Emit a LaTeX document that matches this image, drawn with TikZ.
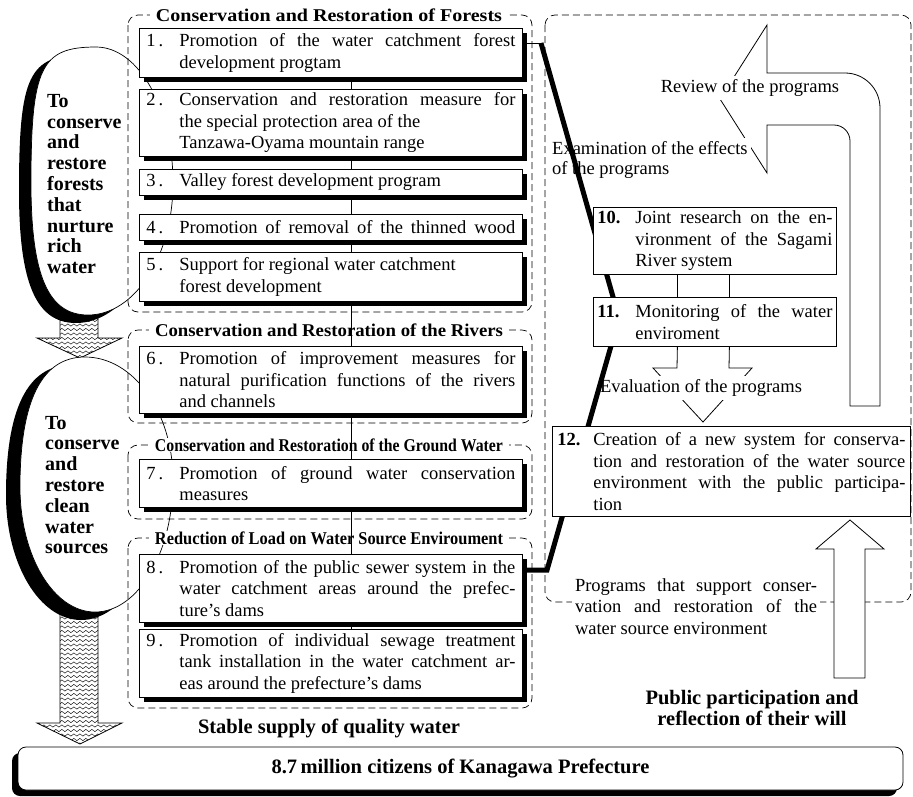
\documentclass[tikz,border=0pt]{standalone}
\usepackage{fontspec}
\setmainfont{Liberation Serif}
\usepackage{graphicx}
\usetikzlibrary{positioning,shadows,decorations.pathmorphing,calc}
\tolerance=9999
\hbadness=10000
\pgfdeclarelayer{back}
\pgfdeclarelayer{mid}
\pgfsetlayers{back,mid,main}

% number + justified text of a program box
\newcommand\prog[4]{\makebox[#1][l]{#3}\parbox[t]{#2}{#4}}
\newcommand\fulline{\parfillskip=0pt\relax}

\begin{document}
\begin{tikzpicture}[
  x=1pt, y=-1pt,
  txt/.style={font=\fontsize{18.5}{21.5}\selectfont},
  pbox/.style={txt, draw, fill=white, anchor=north west, inner xsep=7pt,
               inner ysep=0pt, line width=0.8pt,
               drop shadow={opacity=1, fill=black, shadow xshift=5pt, shadow yshift=-5pt}},
  rbox/.style={txt, draw, fill=white, anchor=north west, inner xsep=4pt,
               inner ysep=0pt, line width=0.8pt},
  grp/.style={draw, dash pattern=on 7pt off 4pt, rounded corners=10pt, line width=0.7pt},
  ttl/.style={fill=white, inner xsep=6pt, inner ysep=1pt,
              font=\bfseries\fontsize{18}{20}\selectfont},
  aim/.style={font=\bfseries\fontsize{20}{20.8}\selectfont, align=left,
              anchor=west, inner sep=0pt},
  big/.style={font=\bfseries\fontsize{20.5}{21}\selectfont, align=center},
  citybox/.style={draw, fill=white, rounded corners=8pt, line width=0.8pt,
                  minimum width=885pt, minimum height=43pt,
                  font=\bfseries\fontsize{20.5}{21}\selectfont,
                  drop shadow={opacity=1, fill=black, shadow xshift=-6pt, shadow yshift=-6pt}},
  hollow/.style={draw, fill=white, line width=0.8pt, line join=miter},
  wave/.style={decorate, decoration={snake, amplitude=1.1pt, segment length=6pt},
               line width=0.45pt},
  note/.style={txt, fill=white, inner sep=3pt},
  link/.style={line width=0.7pt},
  trunk/.style={line width=5pt, line join=miter},
  % outlines of the two aims
  forestaim/.style={insert path={(96,47) .. controls (40.75,47) and (31,67.4) .. (31,183)
     .. controls (31,275.4) and (48.1,315) .. (88,315)
     .. controls (134.9,315) and (173,255.9) .. (173,183)
     .. controls (173,107.9) and (138.5,47) .. (96,47) -- cycle}},
  wateraim/.style={insert path={(85,357) .. controls (41,357) and (20,402) .. (20,487)
     .. controls (20,556) and (53.6,612) .. (95,612)
     .. controls (138.1,612) and (173,552.9) .. (173,480)
     .. controls (173,412.1) and (133.6,357) .. (85,357) -- cycle}}
]
\useasboundingbox (0,0) rectangle (913,796);

% program boxes, left column
\node[pbox, minimum height=49pt] (b1) at (139,28)
  {\prog{33pt}{336pt}{1\hspace{3pt}.}{Promotion of the water catchment forest\linebreak development progtam}};
\node[pbox, minimum height=67pt] (b2) at (139,89)
  {\prog{33pt}{336pt}{2\hspace{3pt}.}{Conservation and restoration measure for\linebreak the special protection area of the\\Tanzawa-Oyama mountain range}};
\node[pbox, minimum height=26pt] (b3) at (139,169)
  {\prog{33pt}{336pt}{3\hspace{3pt}.}{Valley forest development program}};
\node[pbox, minimum height=26pt] (b4) at (139,214)
  {\prog{33pt}{336pt}{4\hspace{3pt}.}{\fulline Promotion of removal of the thinned wood}};
\node[pbox, minimum height=49pt] (b5) at (139,252)
  {\prog{33pt}{336pt}{5\hspace{3pt}.}{Support for regional water catchment\\forest development}};
\node[pbox, minimum height=67pt] (b6) at (139,346)
  {\prog{33pt}{336pt}{6\hspace{3pt}.}{Promotion of improvement measures for\linebreak natural purification functions of the rivers\linebreak and channels}};
\node[pbox, minimum height=48pt] (b7) at (139,459)
  {\prog{33pt}{336pt}{7\hspace{3pt}.}{Promotion of ground water conservation\linebreak measures}};
\node[pbox, minimum height=68pt] (b8) at (139,554)
  {\prog{33pt}{336pt}{8\hspace{3pt}.}{Promotion of the public sewer system in the\linebreak water catchment areas around the prefec-\linebreak ture's dams}};
\node[pbox, minimum height=68pt] (b9) at (139,629)
  {\prog{33pt}{336pt}{9\hspace{3pt}.}{Promotion of individual sewage treatment\linebreak tank installation in the water catchment ar-\linebreak eas around the prefecture's dams}};

% right column
\node[rbox, minimum height=67pt] (b10) at (593,207)
  {\prog{38pt}{197pt}{\textbf{10.}}{Joint research on the en-\linebreak vironment of the Sagami\linebreak River system}};
\node[rbox, minimum height=49pt] (b11) at (593,297)
  {\prog{38pt}{197pt}{\textbf{11.}}{Monitoring of the water\linebreak enviroment}};
\node[rbox, inner xsep=5pt, minimum height=90pt] (b12) at (552,426)
  {\prog{36pt}{312pt}{\textbf{12.}}{Creation of a new system for conserva-\linebreak tion and restoration of the water source\linebreak environment with the public participa-\linebreak tion}};

\node[big] (supply) at (329,728) {Stable supply of quality water};
\node[big] (public) at (752,707.5) {Public participation and\\reflection of their will};
\node[citybox] (city) at (460.5,768.5) {8.7\,million citizens of Kanagawa Prefecture};

\begin{pgfonlayer}{back}
% hatched arrows
\begin{scope}
  \clip (60,316) -- (98,316) -- (98,338) -- (122,338) -- (80,358) -- (37,338) -- (60,338) -- cycle;
  \foreach \y in {316,320.5,...,362} \draw[wave] (30,\y) -- (130,\y);
\end{scope}
\draw[line width=0.8pt] (60,316) -- (98,316) -- (98,338) -- (122,338) -- (80,358) -- (37,338) -- (60,338) -- cycle;
\begin{scope}
  \clip (60,600) -- (98,600) -- (98,723) -- (122,723) -- (80,744) -- (37,723) -- (60,723) -- cycle;
  \foreach \y in {600,604.5,...,748} \draw[wave] (30,\y) -- (130,\y);
\end{scope}
\draw[line width=0.8pt] (60,600) -- (98,600) -- (98,723) -- (122,723) -- (80,744) -- (37,723) -- (60,723) -- cycle;

% aims
\fill[shift={(-12,8)}, forestaim];
\draw[fill=white, line width=0.7pt, forestaim];
\fill[shift={(-14,8)}, wateraim];
\draw[fill=white, line width=0.7pt, wateraim];
\node[aim] (aim1) at (47,184) {To\\conserve\\and\\restore\\forests\\that\\nurture\\rich\\water};
\node[aim] (aim2) at (45,485) {To\\conserve\\and\\restore\\clean\\water\\sources};

% groups
\draw[grp] (128,15) rectangle (532,312);
\draw[grp] (128,330) rectangle (532,423);
\draw[grp] (128,445) rectangle (532,519);
\draw[grp] (128,538) rectangle (532,708);
\draw[grp] (545,15) rectangle (911,602);
\node[ttl] (t1) at (329,15) {\resizebox{346pt}{\height}{Conservation and Restoration of Forests}};
\node[ttl] (t2) at (329,330) {\resizebox{348pt}{\height}{Conservation and Restoration of the Rivers}};
\node[ttl] (t3) at (329,445) {\resizebox{348pt}{\height}{Conservation and Restoration of the Ground Water}};
\node[ttl] (t4) at (329,538) {\resizebox{348pt}{\height}{Reduction of Load on Water Source Enviroument}};

% block arrows
\draw[hollow] (720,99) -- (767,25) -- (767,73) -- (845,73)
  arc[start angle=90, end angle=0, radius=35pt] -- (880,406) -- (850,406) -- (850,141)
  arc[start angle=0, end angle=90, radius=16pt] -- (767,125) -- (767,173) -- cycle;
\draw[hollow] ([xshift=-37.5pt]b11.south) -- (677,368) -- (653,368) -- (703,422)
  -- (752,368) -- (729,368) -- ([xshift=14.5pt]b11.south);
\draw[hollow] (850,520) -- (884,549) -- (865,549) -- (865,678) -- (834,678)
  -- (834,549) -- (816,549) -- cycle;

\node[note] (review) at (750,88) {Review of the programs};
\node[note, anchor=west, align=left, font=\fontsize{18.5}{20}\selectfont] (exam) at (549,160)
  {Examination of the effects\\of the programs};
\node[note] (evaluation) at (701,388) {Evaluation of the programs};
\node[note, text width=242pt, align=justify] (support) at (696,606.5)
  {Programs that support conser-\linebreak vation and restoration of the\linebreak water source environment};
\end{pgfonlayer}

\begin{pgfonlayer}{mid}
\coordinate (k0) at (541,43);
\coordinate (k1) at (619,318);
\coordinate (k2) at (547,570);
\draw[link] (b1.east |- k0) -- (k0);
\draw[trunk] (k0) -- (k1) -- (k2) -- (b8.east |- k2);
\draw[link] ([xshift=20.5pt]b1.south) -- ([xshift=20.5pt]b9.north);
\draw[link] ([xshift=-37.5pt]b10.south) -- ([xshift=-37.5pt]b11.north);
\draw[link] ([xshift=14.5pt]b10.south) -- ([xshift=14.5pt]b11.north);
\end{pgfonlayer}
\end{tikzpicture}
\end{document}
